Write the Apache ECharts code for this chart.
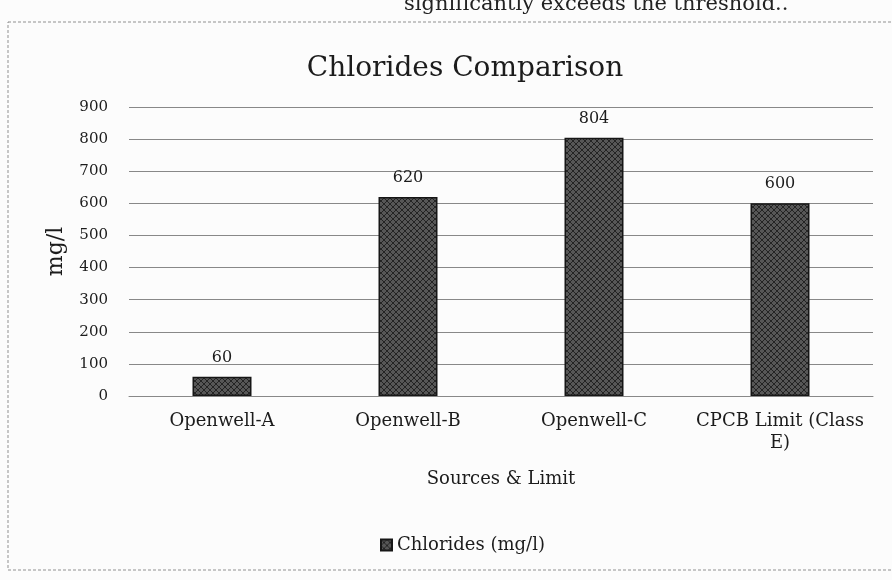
<!DOCTYPE html>
<html>
<head>
<meta charset="utf-8">
<script src="https://cdn.jsdelivr.net/npm/echarts@6/dist/echarts.min.js"></script>
<style>
  html, body { margin: 0; padding: 0; background: #fcfcfc; }
  #chart { width: 892px; height: 580px; }
</style>
</head>
<body>
<div id="chart"></div>
<script>
const categories = ['Openwell-A', 'Openwell-B', 'Openwell-C', 'CPCB Limit (Class E)'];
const chlorides = [60, 620, 804, 600];
const yTicks = [0, 100, 200, 300, 400, 500, 600, 700, 800, 900];

const font = '"DejaVu Serif", "Liberation Serif", serif';
const ink = '#1c1c1c';

// dark cross-hatched fill like the printed bars
function hatch() {
    const c = document.createElement('canvas');
    c.width = 6; c.height = 6;
    const g = c.getContext('2d');
    g.fillStyle = '#575757';
    g.fillRect(0, 0, 6, 6);
    g.strokeStyle = '#242424';
    g.lineWidth = 1;
    g.beginPath();
    g.moveTo(0, 0); g.lineTo(6, 6);
    g.moveTo(6, 0); g.lineTo(0, 6);
    g.stroke();
    return c;
}

const chart = echarts.init(document.getElementById('chart'));

chart.setOption({
    backgroundColor: '#fcfcfc',
    animation: false,
    title: {
        text: 'Chlorides Comparison',
        left: 460,
        top: 50,
        textAlign: 'center',
        textStyle: { fontFamily: font, fontSize: 28, fontWeight: 'normal', color: ink }
    },
    graphic: [
        {
            type: 'rect',
            shape: { x: 8, y: 22, width: 900, height: 548 },
            style: { fill: 'none', stroke: '#909090', lineWidth: 1, lineDash: [3, 2] },
            silent: true
        },
        {
            type: 'text',
            style: {
                x: 404, y: 15, text: 'significantly exceeds the threshold..',
                font: '21px ' + font, fill: '#222', verticalAlign: 'bottom'
            },
            silent: true
        }
    ],
    legend: {
        top: 531,
        left: 375,
        itemWidth: 11,
        itemHeight: 11,
        itemGap: 6,
        icon: 'rect',
        textStyle: { fontFamily: font, fontSize: 18, color: ink },
        data: ['Chlorides (mg/l)']
    },
    grid: { left: 129, right: 19, top: 107, bottom: 184, containLabel: false },
    xAxis: {
        type: 'category',
        data: categories,
        name: 'Sources & Limit',
        nameLocation: 'middle',
        nameGap: 74,
        nameTextStyle: { fontFamily: font, fontSize: 18, color: ink },
        axisTick: { show: false },
        axisLine: { lineStyle: { color: '#888' } },
        axisLabel: {
            fontFamily: font, fontSize: 18, color: ink, margin: 14,
            lineHeight: 22, interval: 0,
            formatter: v => v === 'CPCB Limit (Class E)' ? 'CPCB Limit (Class\nE)' : v
        }
    },
    yAxis: {
        type: 'value',
        min: yTicks[0],
        max: yTicks[yTicks.length - 1],
        interval: 100,
        name: 'mg/l',
        nameLocation: 'middle',
        nameGap: 62,
        nameTextStyle: { fontFamily: font, fontSize: 22, color: ink },
        axisLine: { show: false },
        axisTick: { show: false },
        splitLine: { lineStyle: { color: '#888', width: 1 } },
        axisLabel: { fontFamily: font, fontSize: 15, color: ink, margin: 21 }
    },
    series: [{
        name: 'Chlorides (mg/l)',
        type: 'bar',
        data: chlorides,
        barWidth: 59,
        itemStyle: {
            color: { image: hatch(), repeat: 'repeat' },
            borderColor: '#161616',
            borderWidth: 1.5
        },
        label: {
            show: true,
            position: 'top',
            distance: 11,
            fontFamily: font,
            fontSize: 16,
            color: ink
        }
    }]
});
</script>
</body>
</html>
